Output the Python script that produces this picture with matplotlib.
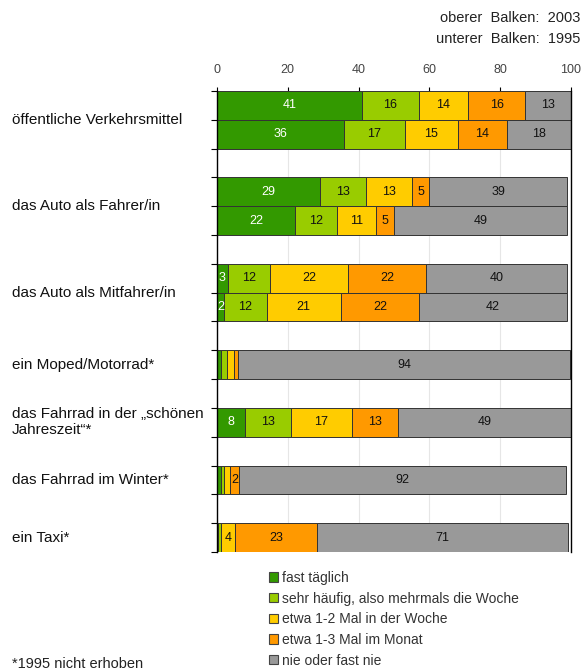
import numpy as np
import matplotlib
matplotlib.use("Agg")
import matplotlib.pyplot as plt
from matplotlib.patches import Patch

plt.rcParams['font.family'] = ['Liberation Sans', 'DejaVu Sans']

categories = ["öffentliche Verkehrsmittel", "das Auto als Fahrer/in", "das Auto als Mitfahrer/in",
              "ein Moped/Motorrad*", "das Fahrrad in der „schönen\nJahreszeit“*",
              "das Fahrrad im Winter*", "ein Taxi*"]
legend_labels = ["fast täglich", "sehr häufig, also mehrmals die Woche", "etwa 1-2 Mal in der Woche",
                 "etwa 1-3 Mal im Monat", "nie oder fast nie"]
colors = ["#339900", "#99cc00", "#ffcc00", "#ff9900", "#999999"]

# 2003 (oberer Balken)
v2003 = [[41, 16, 14, 16, 13],
         [29, 13, 13, 5, 39],
         [3, 12, 22, 22, 40],
         [1, 1.9, 1.9, 1, 94],
         [8, 13, 17, 13, 49],
         [1.1, 0.8, 1.9, 2.4, 92.4],
         [0.4, 0.8, 4, 23, 71]]
# 1995 (unterer Balken), nur erste drei Kategorien
v1995 = [[36, 17, 15, 14, 18],
         [22, 12, 11, 5, 49],
         [2, 12, 21, 22, 42]]

# row layout: bar positions (units), gaps between groups
rows = []
label_pos = []
y = 0
for i, cat in enumerate(categories):
    if i < len(v1995):
        rows.append((y, v2003[i]))
        rows.append((y + 1, v1995[i]))
        label_pos.append(y + 1)
        y += 3
    else:
        rows.append((y, v2003[i]))
        label_pos.append(y + 0.5)
        y += 2
ymax = y - 1

fig = plt.figure(figsize=(5.88, 6.70), dpi=100)
ax = fig.add_axes([217 / 588, 1 - 552 / 670, 354 / 588, 461 / 670])

for ypos, vals in rows:
    left = 0
    for j, v in enumerate(vals):
        ax.barh(ypos + 0.5, v, height=1, left=left, color=colors[j],
                edgecolor="#333333", linewidth=0.7, zorder=2)
        if v >= 2:
            ax.text(left + v / 2, ypos + 0.5, f"{v:.0f}", ha="center", va="center",
                    fontsize=9, color="white" if j == 0 else "#111111", zorder=3)
        left += v

ax.set_xlim(0, 100)
ax.set_ylim(ymax, 0)
ax.set_xticks([0, 20, 40, 60, 80, 100])
ax.xaxis.tick_top()
ax.tick_params(axis="x", length=3, width=0.8, direction="out", labelsize=9,
               labelcolor="#444444", pad=8)
ax.set_yticks(np.arange(0, ymax + 1))
ax.set_yticklabels([])
ax.tick_params(axis="y", length=4, width=0.8, direction="out")
ax.grid(axis="x", color="#e6e6e6", linewidth=0.8, zorder=0)
ax.spines["bottom"].set_visible(False)
ax.spines["top"].set_visible(False)
for s in ["left", "right"]:
    ax.spines[s].set_color("black")
    ax.spines[s].set_linewidth(1)

for cat, yp in zip(categories, label_pos):
    ax.text((12 - 217) / 3.54, yp, cat, ha="left", va="center",
            fontsize=11, color="#111111", linespacing=1.2)

fig.text(580 / 588, 1 - 18 / 670, "oberer  Balken:  2003", ha="right", va="center", fontsize=10.5, color="#222222")
fig.text(580 / 588, 1 - 39 / 670, "unterer  Balken:  1995", ha="right", va="center", fontsize=10.5, color="#222222")

handles = [Patch(facecolor=c, edgecolor="#444444", linewidth=0.8) for c in colors]
fig.legend(handles, legend_labels, loc="upper left", bbox_to_anchor=(269 / 588, 1 - 571 / 670),
           frameon=False, fontsize=10, handlelength=0.65, handleheight=0.65, handletextpad=0.3,
           labelspacing=0.48, borderpad=0, borderaxespad=0, labelcolor="#333333")

fig.text(12 / 588, 1 - 664 / 670, "*1995 nicht erhoben", ha="left", va="center", fontsize=10.5, color="#222222")

fig.savefig("out.png", dpi=100)
